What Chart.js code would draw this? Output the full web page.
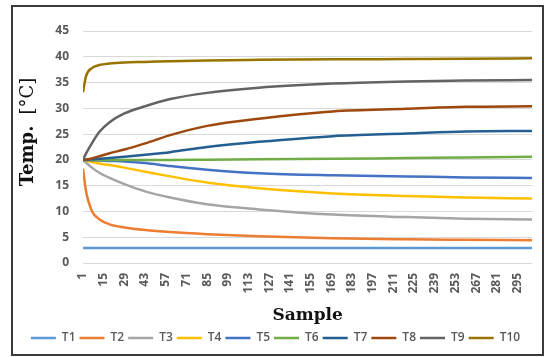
<!DOCTYPE html>
<html>
<head>
<meta charset="utf-8">
<script src="https://cdn.jsdelivr.net/npm/chart.js@4/dist/chart.umd.min.js"></script>
<style>
  html, body { margin: 0; padding: 0; background: #fff; }
  #frame { position: absolute; left: 11px; top: 5px; width: 529px; height: 347px; border: 2px solid #3a3a3a; }
  canvas { display: block; }
</style>
</head>
<body>
<div id="frame"><canvas id="chart" width="529" height="347"></canvas></div>
<script>
const samples = [1, 3, 7, 12, 19, 29, 43, 60, 85, 120, 170, 220, 260, 305];
const xTickLabels = [1, 15, 29, 43, 57, 71, 85, 99, 113, 127, 141, 155, 169, 183, 197, 211, 225, 239, 253, 267, 281, 295];
const seriesNames = ['T1', 'T2', 'T3', 'T4', 'T5', 'T6', 'T7', 'T8', 'T9', 'T10'];
const colors = ['#5B9BD5', '#ED7D31', '#A5A5A5', '#FFC000', '#4472C4', '#70AD47', '#255E91', '#9E480E', '#636363', '#997300'];

const t1 = [2.9, 2.9, 2.9, 2.9, 2.9, 2.9, 2.9, 2.9, 2.9, 2.9, 2.9, 2.9, 2.9, 2.9];
const t2 = [18.3, 14.0, 10.1, 8.5, 7.5, 6.9, 6.4, 6.0, 5.6, 5.2, 4.8, 4.6, 4.5, 4.4];
const t3 = [20, 19.5, 18.5, 17.5, 16.5, 15.3, 13.9, 12.7, 11.4, 10.4, 9.4, 8.9, 8.6, 8.45];
const t4 = [20, 19.9, 19.6, 19.3, 19.0, 18.5, 17.7, 16.8, 15.6, 14.5, 13.5, 13.0, 12.7, 12.5];
const t5 = [20, 20, 19.95, 19.9, 19.8, 19.7, 19.4, 18.8, 18.1, 17.4, 17.0, 16.8, 16.6, 16.5];
const t6 = [20, 20, 20, 20, 20, 20, 20, 20, 20.05, 20.1, 20.2, 20.35, 20.45, 20.6];
const t7 = [20, 20.05, 20.1, 20.2, 20.35, 20.6, 21.0, 21.5, 22.5, 23.5, 24.6, 25.1, 25.5, 25.6];
const t8 = [20, 20.05, 20.3, 20.7, 21.3, 22.0, 23.2, 24.8, 26.6, 28.0, 29.4, 29.9, 30.3, 30.4];
const t9 = [20, 21.2, 23.2, 25.4, 27.3, 29.0, 30.4, 31.8, 33.0, 34.0, 34.8, 35.2, 35.4, 35.5];
const t10 = [33.1, 36.2, 37.8, 38.4, 38.7, 38.9, 39.0, 39.15, 39.3, 39.4, 39.5, 39.55, 39.6, 39.7];

const allSeries = [t1, t2, t3, t4, t5, t6, t7, t8, t9, t10];

const tickFont = { family: '"Open Sans", sans-serif', weight: 'bold', size: 12 };

// y title has a bold and a regular part, so it is drawn by hand
const yTitlePlugin = {
    id: 'yTitle',
    afterDraw(chart) {
        const ctx = chart.ctx;
        ctx.save();
        ctx.translate(15, 125);
        ctx.rotate(-Math.PI / 2);
        ctx.fillStyle = '#111';
        ctx.textBaseline = 'middle';
        ctx.textAlign = 'left';
        ctx.font = 'bold 18px "DejaVu Serif"';
        const w1 = ctx.measureText('Temp.').width;
        ctx.font = '18px "DejaVu Serif"';
        const w2 = ctx.measureText('[°C]').width;
        const gap = 11;
        let x = -(w1 + gap + w2) / 2;
        ctx.font = 'bold 18px "DejaVu Serif"';
        ctx.fillText('Temp.', x, 0);
        ctx.font = '18px "DejaVu Serif"';
        ctx.fillText('[°C]', x + w1 + gap, 0);
        ctx.restore();
    }
};

const datasets = allSeries.map((vals, i) => ({
    label: seriesNames[i],
    data: samples.map((s, j) => ({ x: s, y: vals[j] })),
    borderColor: colors[i],
    backgroundColor: colors[i],
    borderWidth: 2.5,
    pointRadius: 0,
    cubicInterpolationMode: 'monotone',
    order: 10 - i
}));

new Chart(document.getElementById('chart'), {
    type: 'line',
    data: { datasets: datasets },
    options: {
        responsive: false,
        animation: false,
        layout: { padding: { left: 0, right: 4, top: 24, bottom: 0 } },
        plugins: {
            legend: {
                position: 'bottom',
                labels: {
                    usePointStyle: true,
                    pointStyle: 'line',
                    pointStyleWidth: 25,
                    padding: 4,
                    color: '#595959',
                    font: { family: '"Open Sans", sans-serif', weight: '600', size: 12 },
                    sort: (a, b) => a.datasetIndex - b.datasetIndex
                }
            },
            tooltip: { enabled: false }
        },
        scales: {
            x: {
                type: 'linear',
                min: 1,
                max: 305,
                afterBuildTicks: (scale) => { scale.ticks = xTickLabels.map(v => ({ value: v })); },
                afterFit: (scale) => { scale.height = 65; },
                grid: { display: false, drawTicks: false },
                border: { display: false },
                ticks: {
                    autoSkip: false,
                    minRotation: 90,
                    maxRotation: 90,
                    padding: 10,
                    color: '#595959',
                    font: tickFont
                },
                title: {
                    display: true,
                    text: 'Sample',
                    color: '#111',
                    font: { family: '"DejaVu Serif", serif', weight: 'bold', size: 17 },
                    padding: { top: 0, bottom: 2 }
                }
            },
            y: {
                min: 0,
                max: 45,
                afterFit: (scale) => { scale.width = 70; },
                grid: { color: '#d9d9d9', lineWidth: 1, drawTicks: false },
                border: { display: false },
                ticks: {
                    stepSize: 5,
                    padding: 14,
                    color: '#595959',
                    font: tickFont
                }
            }
        }
    },
    plugins: [yTitlePlugin]
});
</script>
</body>
</html>
